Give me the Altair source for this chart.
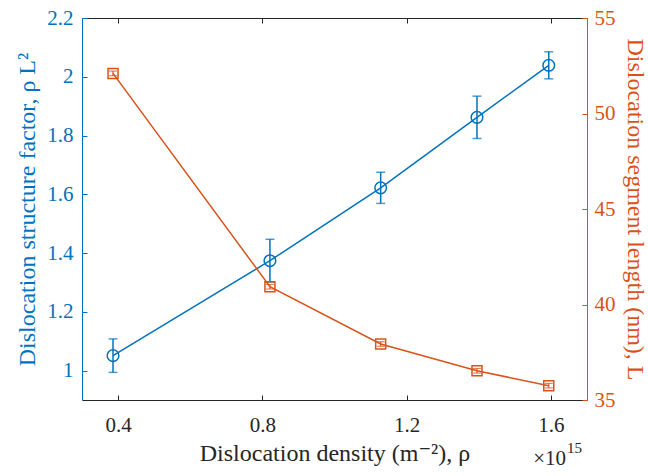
import altair as alt
import pandas as pd

# ---- data ----
rho = [0.386, 0.821, 1.128, 1.395, 1.594]                 # x 1e15 m^-2
structure_factor = [1.051, 1.374, 1.622, 1.862, 2.039]    # rho L^2
structure_err = [0.057, 0.073, 0.053, 0.072, 0.046]
segment_length = [52.1, 40.93, 37.93, 36.53, 35.75]       # nm
segment_err = [0.12, 0.12, 0.12, 0.12, 0.12]

x_ticks = [0.4, 0.8, 1.2, 1.6]
left_ticks = [1, 1.2, 1.4, 1.6, 1.8, 2, 2.2]
right_ticks = [35, 40, 45, 50, 55]
x_domain = [0.3, 1.7]
left_domain = [0.9, 2.2]
right_domain = [35, 55]

annot_text = ["×10", "15"]

BLUE = "#0072BD"
ORANGE = "#D95319"
DARK = "#262626"
FONT = "'Times New Roman', 'Liberation Serif', 'DejaVu Serif', serif"
LABEL_SIZE = 21
TITLE_SIZE = 24

df = pd.DataFrame({
    "rho": rho,
    "F": structure_factor,
    "Ferr": structure_err,
    "L": segment_length,
    "Lerr": segment_err,
})
df["F_lo"] = df["F"] - df["Ferr"]
df["F_hi"] = df["F"] + df["Ferr"]
df["L_lo"] = df["L"] - df["Lerr"]
df["L_hi"] = df["L"] + df["Lerr"]

xs = alt.Scale(domain=x_domain, nice=False, zero=False)
yls = alt.Scale(domain=left_domain, nice=False, zero=False)
yrs = alt.Scale(domain=right_domain, nice=False, zero=False)

base = alt.Chart(df)


def tick_axis(orient, values, color):
    return alt.Axis(orient=orient, values=values, labels=False, domain=False,
                    ticks=True, tickSize=5, tickWidth=1, tickColor=color,
                    offset=-5, grid=False, title="")


# blue error bars (inward ticks on bottom and left)
blue_err = base.mark_errorbar(ticks={"size": 9}, thickness=1.5, color=BLUE).encode(
    x=alt.X("rho:Q", scale=xs, axis=tick_axis("bottom", x_ticks, DARK)),
    y=alt.Y("F_lo:Q", scale=yls, axis=tick_axis("left", left_ticks, BLUE)),
    y2="F_hi:Q",
)

blue_line = base.mark_line(
    color=BLUE, strokeWidth=1.5,
    point=alt.OverlayMarkDef(shape="circle", filled=False, size=135,
                             strokeWidth=1.5, color=BLUE),
).encode(
    x=alt.X("rho:Q", scale=xs, axis=alt.Axis(
        orient="bottom", values=x_ticks, format="~g", ticks=False, grid=False,
        domainColor=DARK, domainWidth=1, labelColor=DARK, labelFont=FONT,
        labelFontSize=LABEL_SIZE, labelPadding=14, titleColor=DARK, titleFont=FONT,
        titleFontSize=TITLE_SIZE, titleFontWeight="normal", titlePadding=6,
        title="Dislocation density (m⁻²), ρ")),
    y=alt.Y("F:Q", scale=yls, axis=alt.Axis(
        orient="left", values=left_ticks, format="~g", ticks=False, grid=False,
        domainColor=BLUE, domainWidth=1, labelColor=BLUE, labelFont=FONT,
        labelFontSize=LABEL_SIZE, labelPadding=9, titleColor=BLUE, titleFont=FONT,
        titleFontSize=TITLE_SIZE, titleFontWeight="normal", titlePadding=7,
        title="Dislocation structure factor, ρ L²")),
)

# orange error bars (inward ticks on top and right)
orange_err = base.mark_errorbar(ticks={"size": 8}, thickness=1.2, color=ORANGE).encode(
    x=alt.X("rho:Q", scale=xs, axis=tick_axis("top", x_ticks, DARK)),
    y=alt.Y("L_lo:Q", scale=yrs, axis=tick_axis("right", right_ticks, ORANGE)),
    y2="L_hi:Q",
)

orange_line = base.mark_line(
    color=ORANGE, strokeWidth=1.5,
    point=alt.OverlayMarkDef(shape="square", filled=False, size=100,
                             strokeWidth=1.5, color=ORANGE),
).encode(
    x=alt.X("rho:Q", scale=xs, axis=alt.Axis(
        orient="top", values=x_ticks, labels=False, ticks=False, grid=False,
        domainColor=DARK, domainWidth=1, title="")),
    y=alt.Y("L:Q", scale=yrs, axis=alt.Axis(
        orient="right", values=right_ticks, format="~g", ticks=False, grid=False,
        domainColor=ORANGE, domainWidth=1, labelColor=ORANGE, labelFont=FONT,
        labelFontSize=LABEL_SIZE, labelPadding=7, titleColor=ORANGE, titleFont=FONT,
        titleFontSize=TITLE_SIZE, titleFontWeight="normal", titlePadding=7,
        title="Dislocation segment length (nm), L")),
)

annot = pd.DataFrame({"t": annot_text})
times_ten = alt.Chart(annot.iloc[[0]]).mark_text(
    font=FONT, fontSize=21, color=DARK, align="right", baseline="alphabetic"
).encode(x=alt.value(484), y=alt.value(447), text="t:N")
exponent = alt.Chart(annot.iloc[[1]]).mark_text(
    font=FONT, fontSize=15, color=DARK, align="left", baseline="alphabetic"
).encode(x=alt.value(485), y=alt.value(435), text="t:N")

chart = alt.layer(blue_err, blue_line, orange_err, orange_line, times_ten, exponent).resolve_scale(
    x="independent", y="independent"
).resolve_axis(
    x="independent", y="independent"
).properties(
    width=505, height=382, autosize="none",
    padding={"left": 82, "top": 18, "right": 61, "bottom": 76},
    background="white",
).configure_view(stroke=None)

chart.save("out.html", embed_options={"renderer": "svg", "actions": False})
